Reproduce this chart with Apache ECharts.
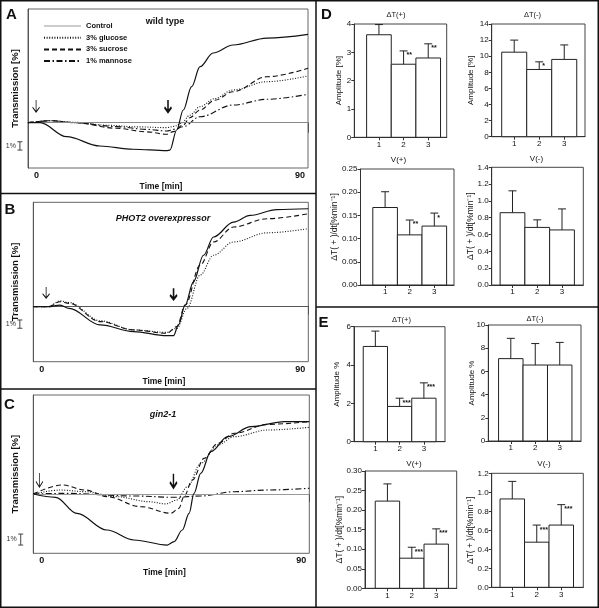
<!DOCTYPE html>
<html><head><meta charset="utf-8">
<script src="https://cdn.jsdelivr.net/npm/echarts@6/dist/echarts.min.js"></script>
<style>html,body{margin:0;padding:0;background:#fff}#c{width:599px;height:608px}</style>
</head><body><div id="c"></div>
<script>
// ================= DATA =================
const seriesNames = ['Control', '3% glucose', '3% sucrose', '1% mannose'];
const timeTicks = [0, 90];
// Panel A: wild type  [time (min), transmission change (%)]
const aControl = [[0,0],[3.9,0],[12.4,-1.69],[23.1,-2.81],[33.8,-3.2],[44.6,-3.37],[45.6,-3.3],[47.8,-0.88],[49.9,1.53],[52.6,4.34],[55.3,6.75],[59.5,8.4],[65.9,9.36],[76.8,10.2],[90,10.65]];
const aGlucose = [[0,0],[7.5,0.24],[15,0.05],[25,-0.3],[35,-0.5],[44.6,-0.6],[47,-0.45],[49.3,-0.07],[52,0.9],[55.3,1.93],[60,2.9],[65.9,3.94],[76.8,4.94],[90,5.63]];
const aSucrose = [[0,0],[7.5,0.24],[15,0],[28.5,-0.67],[38,-1.1],[44.6,-1.4],[46.7,-1.08],[49.9,-0.28],[52,0.6],[55.3,1.53],[60,2.7],[65.9,3.73],[76.8,5.54],[90,6.55]];
const aMannose = [[0,0],[7.5,0.24],[15,0],[28.5,-0.48],[38,-0.8],[44.6,-1.0],[47,-0.8],[49.9,-0.48],[55.3,0.72],[65.9,2.13],[76.8,2.82],[90,3.42]];
const aArrows = [[2.6,2.0],[45,2.0]];
const aScaleBar = [[-2.6,-3.3,-2.3]];
// Panel B: PHOT2 overexpressor
const bControl = [[0,0],[4.9,0],[8.75,0.2],[11.7,-0.2],[21.9,-2.2],[32.8,-3.0],[43.7,-3.49],[45.9,-3.49],[47.5,-2.2],[49.7,0.2],[52.4,3.0],[55.7,6.2],[59,8.4],[65.5,10.2],[71,11.0],[79.7,11.7],[90,11.8]];
const bSucrose = [[0,0],[4.9,0],[8.75,0.6],[11.7,0.4],[21.9,-1.8],[32.8,-2.8],[43.7,-3.2],[47,-2.4],[49.7,0.2],[54.6,5.0],[59,7.8],[65.5,9.6],[76.5,10.6],[90,11.2]];
const bGlucose = [[0,0],[4.9,0],[8.75,0.7],[11.7,0.5],[21.9,-1.7],[32.8,-2.8],[43.7,-3.1],[47,-2.6],[50.3,-0.2],[54.6,3.8],[59,6.2],[65.5,7.8],[76.5,8.9],[90,9.4]];
const bArrows = [[4.2,1.7],[45.9,1.55]];
const bScaleBar = [[-4.4,-2.6,-1.6]];
// Panel C: gin2-1
const cControl = [[0,0],[7.3,-0.3],[14.2,-1.76],[24,-3.27],[32.8,-4.18],[43.7,-4.64],[45.9,-4.33],[48.6,-3.27],[50.8,-1.76],[52.4,0.06],[54.6,1.88],[57.9,3.85],[63.4,5.21],[71,6.12],[81.9,6.58],[90,6.58]];
const cSucrose = [[0,0],[9.4,0.82],[17,0.36],[24,-0.24],[35,-1.15],[44.8,-1.75],[47.5,-1.3],[49.1,-0.24],[51.9,1.27],[55.7,3.24],[60.1,4.6],[65.5,5.52],[76.5,6.33],[90,6.58]];
const cGlucose = [[0,0],[8.8,0.36],[17,0.21],[26.9,-0.24],[37.8,-0.7],[43.2,-0.9],[46.8,-0.55],[50.3,0.67],[54.6,2.79],[60.1,4.45],[65.5,5.21],[76.5,5.82],[90,6.06]];
const cMannose = [[0,0],[10.2,0.06],[32.8,-0.18],[45.9,-0.3],[54.6,-0.18],[65.5,0.21],[76.5,0.36],[90,0.52]];
const cArrows = [[2.0,1.27],[45.7,1.2]];
const cScaleBar = [[-4.1,-4.64,-3.64]];
// Bar charts (D, E): categories 1..3, mean and error
const barCats = [1, 2, 3];
const d1Values = [3.62, 2.58, 2.8];   const d1Err = [0.36, 0.47, 0.5];    const d1Stars = ['', '**', '**'];
const d2Values = [10.5, 8.35, 9.6];   const d2Err = [1.5, 0.95, 1.8];     const d2Stars = ['', '*', ''];
const d3Values = [0.167, 0.108, 0.127]; const d3Err = [0.034, 0.032, 0.028]; const d3Stars = ['', '**', '*'];
const d4Values = [0.86, 0.685, 0.655]; const d4Err = [0.26, 0.09, 0.25];  const d4Stars = ['', '', ''];
const e1Values = [4.97, 1.84, 2.27];  const e1Err = [0.8, 0.43, 0.8];     const e1Stars = ['', '***', '***'];
const e2Values = [7.1, 6.55, 6.55];   const e2Err = [1.75, 1.85, 1.95];   const e2Stars = ['', '', ''];
const e3Values = [0.223, 0.077, 0.113]; const e3Err = [0.044, 0.028, 0.039]; const e3Stars = ['', '***', '***'];
const e4Values = [0.93, 0.475, 0.655]; const e4Err = [0.185, 0.18, 0.215]; const e4Stars = ['', '***', '***'];

// ================= LAYOUT / STYLE =================
const F = '"Liberation Sans", Arial, sans-serif';
const INK = '#111';
const lineStyles = {
  'Control':    {type: 'solid', width: 1.2},
  '3% glucose': {type: [1, 1.6], width: 1.1},
  '3% sucrose': {type: [5, 3], width: 1.1},
  '1% mannose': {type: [6, 2.5, 1.5, 2.5], width: 1.1}
};
const arrowPath = 'path://M5,0L5,20M0,12L5,20L10,12';

const linePanels = [
  {grid: {left: 28, top: 9, width: 280, height: 159}, yMin: -5.46, yMax: 13.7, tickLen: 10, xNameGap: 14, yNameGap: 8,
   baseColor: '#888', arrowSize: [7, 12],
   lines: [['Control', aControl], ['3% glucose', aGlucose], ['3% sucrose', aSucrose], ['1% mannose', aMannose]],
   arrows: aArrows, scale: aScaleBar},
  {grid: {left: 33.3, top: 202.3, width: 275, height: 159.4}, yMin: -6.63, yMax: 12.58, tickLen: 8, xNameGap: 15, yNameGap: 13,
   baseColor: '#555', arrowSize: [7, 11],
   lines: [['Control', bControl], ['3% sucrose', bSucrose], ['3% glucose', bGlucose]],
   arrows: bArrows, scale: bScaleBar},
  {grid: {left: 33.3, top: 395, width: 276, height: 158.3}, yMin: -5.39, yMax: 9.0, tickLen: 8, xNameGap: 15, yNameGap: 13,
   baseColor: '#999', arrowSize: [7, 14],
   lines: [['Control', cControl], ['3% sucrose', cSucrose], ['3% glucose', cGlucose], ['1% mannose', cMannose]],
   arrows: cArrows, scale: cScaleBar}
];

const AMP = 'Amplitude [%]', AMP2 = 'Amplitude %', RATE = 'ΔT( + )/dt[%min⁻¹]';
const barPanels = [
  {grid: [354.3, 24, 92.4, 113.3], xr: [0, 3.75], yMax: 4, step: 1, dec: 0, v: d1Values, e: d1Err, s: d1Stars, yName: AMP, nameSize: 8, nameGap: 12},
  {grid: [491.7, 24, 93.3, 112.7], xr: [0.1, 3.83], yMax: 14, step: 2, dec: 0, v: d2Values, e: d2Err, s: d2Stars, yName: AMP, nameSize: 8, nameGap: 17},
  {grid: [360.5, 169, 93.5, 116], xr: [0, 3.8], yMax: 0.25, step: 0.05, dec: 2, v: d3Values, e: d3Err, s: d3Stars, yName: RATE, nameSize: 8.5, nameGap: 21},
  {grid: [491.7, 167.3, 91.6, 117.7], xr: [0.16, 3.86], yMax: 1.4, step: 0.2, dec: 1, v: d4Values, e: d4Err, s: d4Stars, yName: RATE, nameSize: 8.5, nameGap: 17},
  {grid: [354, 326.7, 91, 115], xr: [0.12, 3.87], yMax: 6, step: 2, dec: 0, v: e1Values, e: e1Err, s: e1Stars, yName: AMP2, nameSize: 8, nameGap: 13},
  {grid: [488.3, 325, 92.7, 116], xr: [0.08, 3.87], yMax: 10, step: 2, dec: 0, v: e2Values, e: e2Err, s: e2Stars, yName: AMP2, nameSize: 8, nameGap: 13},
  {grid: [365, 471, 91.7, 117.3], xr: [0.08, 3.84], yMax: 0.3, step: 0.05, dec: 2, v: e3Values, e: e3Err, s: e3Stars, yName: RATE, nameSize: 8.5, nameGap: 21},
  {grid: [491.7, 473.3, 91.6, 114], xr: [0.16, 3.9], yMax: 1.2, step: 0.2, dec: 1, v: e4Values, e: e4Err, s: e4Stars, yName: RATE, nameSize: 8.5, nameGap: 17}
];

// ================= BUILD =================
const grids = [], xAxes = [], yAxes = [], series = [];

linePanels.forEach((p, i) => {
  grids.push(Object.assign({show: true, borderColor: '#666', borderWidth: 1, backgroundColor: 'transparent', containLabel: false, outerBoundsMode: 'none'}, p.grid));
  xAxes.push({
    gridIndex: i, type: 'value', min: timeTicks[0], max: timeTicks[1], interval: timeTicks[1] - timeTicks[0],
    axisLine: {show: true, lineStyle: {color: '#555', width: 1}},
    axisTick: {show: true, length: p.tickLen, lineStyle: {color: '#555'}},
    splitLine: {show: false},
    axisLabel: {
      show: true, margin: 3, color: INK, fontFamily: F, fontSize: 9, fontWeight: 'bold',
      alignMinLabel: 'left', alignMaxLabel: 'right',
      formatter: v => v === timeTicks[0] ? '{l|' + v + '}' : '{r|' + v + '}',
      rich: {l: {padding: [0, 0, 0, 6], fontFamily: F, fontSize: 9, fontWeight: 'bold', color: INK},
             r: {padding: [0, 3, 0, 0], fontFamily: F, fontSize: 9, fontWeight: 'bold', color: INK}}
    },
    name: 'Time [min]', nameLocation: 'middle', nameGap: p.xNameGap, nameMoveOverlap: false,
    nameTextStyle: {fontFamily: F, fontSize: 8.5, fontWeight: 'bold', color: INK, padding: [0, 14, 0, 0]}
  });
  yAxes.push({
    gridIndex: i, type: 'value', min: p.yMin, max: p.yMax,
    axisLine: {show: true, lineStyle: {color: '#555', width: 1}},
    axisTick: {show: false}, axisLabel: {show: false}, splitLine: {show: false},
    name: 'Transmission [%]', nameLocation: 'middle', nameRotate: 90, nameGap: p.yNameGap, nameMoveOverlap: false,
    nameTextStyle: {fontFamily: F, fontSize: 9.5, fontWeight: 'bold', color: INK}
  });
  p.lines.forEach(([name, data], k) => {
    const ls = lineStyles[name];
    const s = {
      type: 'line', name, xAxisIndex: i, yAxisIndex: i, data, symbol: 'none', showSymbol: false,
      smooth: 0.35, smoothMonotone: 'x', silent: true,
      itemStyle: {color: INK},
      lineStyle: {color: INK, width: ls.width, type: ls.type}, z: 5 - k
    };
    if (k === 0) {
      s.markLine = {silent: true, symbol: 'none', label: {show: false}, animation: false,
        lineStyle: {color: p.baseColor, type: 'solid', width: 1}, data: [{yAxis: 0}]};
      s.markPoint = {silent: true, label: {show: false}, animation: false,
        data: p.arrows.map((a, j) => ({coord: a, symbol: arrowPath, symbolSize: p.arrowSize,
          itemStyle: {color: 'rgba(0,0,0,0)', borderColor: INK, borderWidth: j === 0 ? 1 : 2}}))};
    }
    series.push(s);
  });
  series.push({
    type: 'custom', name: 'scale' + i, xAxisIndex: i, yAxisIndex: i, data: p.scale, clip: false, silent: true,
    encode: {x: 0, y: [1, 2]},
    renderItem: (params, api) => {
      const x = api.value(0);
      const bot = api.coord([x, api.value(1)]), top = api.coord([x, api.value(2)]);
      const st = {stroke: '#444', lineWidth: 1};
      return {type: 'group', children: [
        {type: 'line', shape: {x1: top[0], y1: top[1], x2: bot[0], y2: bot[1]}, style: st},
        {type: 'line', shape: {x1: top[0] - 2.5, y1: top[1], x2: top[0] + 2.5, y2: top[1]}, style: st},
        {type: 'line', shape: {x1: bot[0] - 2.5, y1: bot[1], x2: bot[0] + 2.5, y2: bot[1]}, style: st},
        {type: 'text', x: top[0] - 4, y: (top[1] + bot[1]) / 2,
         style: {text: '1%', align: 'right', verticalAlign: 'middle', fontFamily: F, fontSize: 7, fill: '#333'}}
      ]};
    }
  });
});

barPanels.forEach((p, j) => {
  const gi = linePanels.length + j;
  grids.push({left: p.grid[0], top: p.grid[1], width: p.grid[2], height: p.grid[3], show: true,
    borderColor: '#444', borderWidth: 1, containLabel: false, outerBoundsMode: 'none'});
  xAxes.push({
    gridIndex: gi, type: 'value', min: p.xr[0], max: p.xr[1],
    axisLine: {show: true, lineStyle: {color: '#333', width: 1}},
    axisTick: {show: true, length: 3, customValues: barCats, lineStyle: {color: '#333'}},
    axisLabel: {show: true, customValues: barCats, margin: 3, fontFamily: F, fontSize: 8, color: INK},
    splitLine: {show: false}
  });
  yAxes.push({
    gridIndex: gi, type: 'value', min: 0, max: p.yMax, interval: p.step,
    axisLine: {show: true, lineStyle: {color: '#333', width: 1}},
    axisTick: {show: true, length: 3, lineStyle: {color: '#333'}},
    axisLabel: {show: true, margin: 3, fontFamily: F, fontSize: 8, color: INK, formatter: v => v.toFixed(p.dec)},
    splitLine: {show: false},
    name: p.yName, nameLocation: 'middle', nameRotate: 90, nameGap: p.nameGap, nameMoveOverlap: false,
    nameTextStyle: {fontFamily: F, fontSize: p.nameSize, color: INK}
  });
  series.push({
    type: 'custom', name: 'bars' + j, xAxisIndex: gi, yAxisIndex: gi, silent: true,
    data: barCats.map((c, k) => [c, p.v[k], p.e[k]]),
    encode: {x: 0, y: 1},
    renderItem: (params, api) => {
      const c = api.value(0), v = api.value(1), e = api.value(2);
      const tl = api.coord([c - 0.5, v]), br = api.coord([c + 0.5, 0]);
      const m = api.coord([c, v]), t = api.coord([c, v + e]);
      const st = {stroke: '#222', lineWidth: 1};
      const star = p.s[params.dataIndex];
      const ch = [
        {type: 'rect', shape: {x: tl[0], y: tl[1], width: br[0] - tl[0], height: br[1] - tl[1]}, style: {fill: '#fff', stroke: '#222', lineWidth: 1}},
        {type: 'line', shape: {x1: m[0], y1: m[1], x2: t[0], y2: t[1]}, style: st},
        {type: 'line', shape: {x1: t[0] - 4, y1: t[1], x2: t[0] + 4, y2: t[1]}, style: st}
      ];
      if (star) ch.push({type: 'text', x: t[0] + 3, y: t[1] + 1,
        style: {text: star, align: 'left', verticalAlign: 'top', fontFamily: F, fontSize: 7, fontWeight: 'bold', fill: INK}});
      return {type: 'group', children: ch};
    }
  });
});

// Titles, panel letters and frames
function txt(text, x, y, size, extra) {
  return {type: 'text', x, y, silent: true,
    style: Object.assign({text, align: 'center', verticalAlign: 'middle', fontFamily: F, fontSize: size, fill: INK}, extra || {})};
}
const frameStyle = {stroke: '#111', lineWidth: 1.5};
const graphic = [
  {type: 'rect', shape: {x: 0.75, y: 0.75, width: 597.5, height: 606.5}, style: {fill: null, stroke: '#111', lineWidth: 1.5}, silent: true},
  {type: 'line', shape: {x1: 316, y1: 0, x2: 316, y2: 608}, style: frameStyle, silent: true},
  {type: 'line', shape: {x1: 0, y1: 193.5, x2: 316, y2: 193.5}, style: frameStyle, silent: true},
  {type: 'line', shape: {x1: 0, y1: 389, x2: 316, y2: 389}, style: frameStyle, silent: true},
  {type: 'line', shape: {x1: 316, y1: 307, x2: 599, y2: 307}, style: frameStyle, silent: true},
  txt('A', 11.5, 15, 15, {fontWeight: 'bold'}),
  txt('B', 10, 210, 15, {fontWeight: 'bold'}),
  txt('C', 9.5, 405, 15, {fontWeight: 'bold'}),
  txt('D', 326.5, 15, 15, {fontWeight: 'bold'}),
  txt('E', 323.5, 323, 15, {fontWeight: 'bold'}),
  txt('wild type', 165, 21.5, 9, {fontWeight: 'bold'}),
  txt('PHOT2 overexpressor', 163, 218.5, 9, {fontWeight: 'bold', fontStyle: 'italic'}),
  txt('gin2-1', 163, 415, 9, {fontWeight: 'bold', fontStyle: 'italic'}),
  txt('ΔT(+)', 396, 15, 7.5),
  txt('ΔT(-)', 532.5, 15, 7.5),
  txt('V(+)', 398.5, 160, 8),
  txt('V(-)', 536.5, 158.5, 8),
  txt('ΔT(+)', 401.5, 319.5, 7.5),
  txt('ΔT(-)', 535, 318.5, 7.5),
  txt('V(+)', 414, 464, 8),
  txt('V(-)', 544, 464, 8)
];

const option = {
  animation: false,
  backgroundColor: '#fff',
  grid: grids, xAxis: xAxes, yAxis: yAxes, series,
  legend: {
    show: true, orient: 'vertical', left: 43, top: 22, padding: 0,
    itemWidth: 37, itemHeight: 8, itemGap: 3.7, selectedMode: false,
    itemStyle: {opacity: 0},
    textStyle: {fontFamily: F, fontSize: 7.5, fontWeight: 'bold', color: INK},
    data: [{name: seriesNames[0], lineStyle: {color: '#999', width: 1.2}}, seriesNames[1], seriesNames[2], seriesNames[3]]
  },
  graphic
};

const chart = echarts.init(document.getElementById('c'), null, {renderer: 'canvas'});
chart.setOption(option);
</script>
</body></html>
